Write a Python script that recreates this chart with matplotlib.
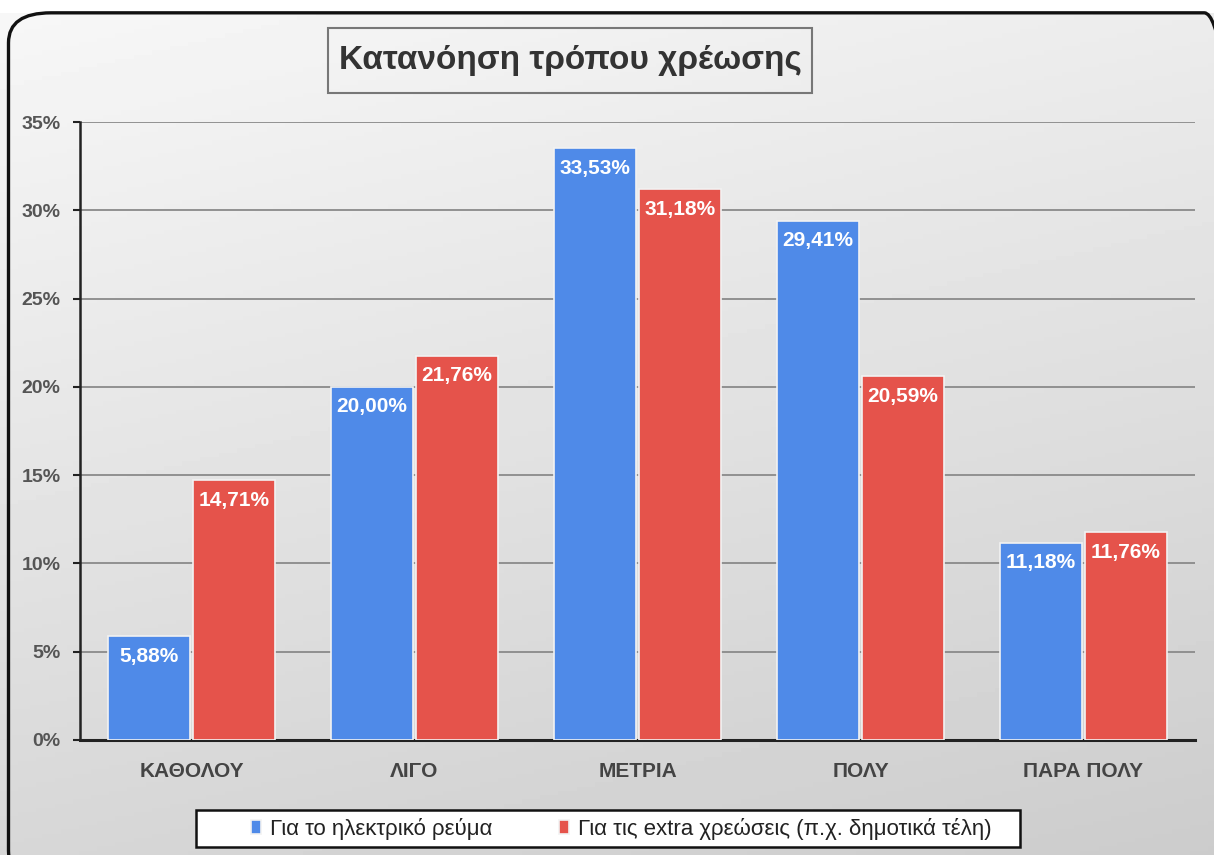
import numpy as np
import matplotlib.pyplot as plt
from matplotlib.patches import FancyBboxPatch, Rectangle
from matplotlib.ticker import FuncFormatter

# data
categories = ["ΚΑΘΟΛΟΥ", "ΛΙΓΟ", "ΜΕΤΡΙΑ", "ΠΟΛΥ", "ΠΑΡΑ ΠΟΛΥ"]
electric = [5.88, 20.00, 33.53, 29.41, 11.18]
extra = [14.71, 21.76, 31.18, 20.59, 11.76]
series_names = ["Για το ηλεκτρικό ρεύμα", "Για τις extra χρεώσεις (π.χ. δημοτικά τέλη)"]
title = "Κατανόηση τρόπου χρέωσης"

blue = "#4F8AE8"
red = "#E5534B"
font = ["Liberation Sans", "DejaVu Sans"]
W, H = 1214, 855

fig = plt.figure(figsize=(12.14, 8.55), dpi=100)

# gradient background
bg = fig.add_axes([0, 0, 1, 1], zorder=-10)
yy, xx = np.mgrid[0:1:200j, 0:1:200j]
shade = 0.97 - 0.17 * (yy * 0.75 + xx * 0.25)
bg.imshow(shade, cmap="gray", vmin=0, vmax=1, extent=[0, 1, 0, 1],
          origin="upper", aspect="auto")
bg.set_xlim(0, 1)
bg.set_ylim(0, 1)
bg.axis("off")
bg.add_patch(FancyBboxPatch((-0.05, 0.985), 1.1, 0.1, boxstyle="square,pad=0",
                            transform=bg.transAxes, facecolor="white", edgecolor="none"))
bg.add_patch(FancyBboxPatch((0.007, -0.03), 1.02, 1.015,
                            boxstyle="round,pad=0,rounding_size=0.035",
                            transform=bg.transAxes, facecolor="none",
                            edgecolor="#111111", linewidth=2.4))

ax = fig.add_axes([80 / W, 1 - 740 / H, 1115 / W, 618 / H])
ax.set_facecolor("none")
x = np.arange(len(categories))
w = 0.37
b1 = ax.bar(x - w / 2 - 0.005, electric, w, color=blue, edgecolor="#F2F2F2", linewidth=1.2, zorder=3)
b2 = ax.bar(x + w / 2 + 0.005, extra, w, color=red, edgecolor="#F2F2F2", linewidth=1.2, zorder=3)

for bars, vals in ((b1, electric), (b2, extra)):
    for r, v in zip(bars, vals):
        ax.text(r.get_x() + r.get_width() / 2, v - 0.6, f"{v:.2f}%".replace(".", ","),
                ha="center", va="top", color="white", fontsize=15, fontweight="bold",
                family=font, zorder=4)

ax.set_xlim(-0.5, 4.5)
ax.set_ylim(0, 35)
ax.set_yticks(np.arange(0, 36, 5))
ax.yaxis.set_major_formatter(FuncFormatter(lambda v, p: f"{v:.0f}%"))
ax.yaxis.grid(True, color="#8A8A8A", linewidth=1.3, zorder=1)
ax.set_xticks(x)
ax.set_xticklabels(categories)
ax.tick_params(axis="x", length=0, pad=16)
ax.tick_params(axis="y", length=5, width=1.5, color="#222222", pad=9)
for lbl in ax.get_xticklabels():
    lbl.set_family(font)
    lbl.set_fontsize(15)
    lbl.set_fontweight("bold")
    lbl.set_color("#444444")
for lbl in ax.get_yticklabels():
    lbl.set_family(font)
    lbl.set_fontsize(14)
    lbl.set_fontweight("bold")
    lbl.set_color("#555555")
for s in ("top", "right"):
    ax.spines[s].set_visible(False)
ax.spines["left"].set_color("#222222")
ax.spines["left"].set_linewidth(1.8)
ax.spines["bottom"].set_color("#222222")
ax.spines["bottom"].set_linewidth(2.2)

# title with its box
fig.add_artist(Rectangle((328 / W, 1 - 93 / H), 484 / W, 65 / H, transform=fig.transFigure,
                         facecolor="none", edgecolor="#777777", linewidth=1.5))
fig.text(570 / W, 1 - 61 / H, title, ha="center", va="center", fontsize=24,
         color="#333333", fontweight="bold", family=font)

# legend with its box
fig.add_artist(Rectangle((196 / W, 1 - 847 / H), 824 / W, 37 / H, transform=fig.transFigure,
                         facecolor="white", edgecolor="#111111", linewidth=1.8))
leg = fig.legend([b1, b2], series_names, loc="center", bbox_to_anchor=(621 / W, 1 - 829 / H),
                 ncol=2, frameon=False, prop={"family": font, "size": 16},
                 handlelength=0.45, handleheight=0.6, handletextpad=0.4, columnspacing=3.0)
for t in leg.get_texts():
    t.set_color("#222222")

fig.savefig("out.png", dpi=100)
